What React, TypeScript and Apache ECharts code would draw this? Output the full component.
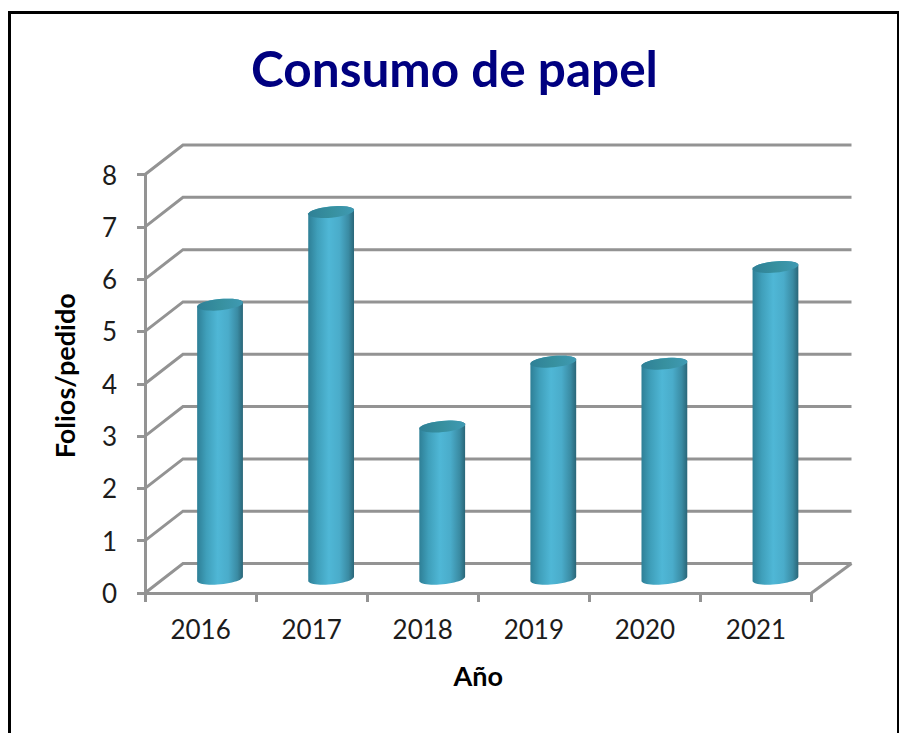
import React, { useEffect, useRef } from "react";
import * as echarts from "echarts";

const years = ["2016", "2017", "2018", "2019", "2020", "2021"];
const consumption = [5.23, 7.0, 2.9, 4.14, 4.1, 5.95];
const gridTicks = [0, 1, 2, 3, 4, 5, 6, 7, 8];

const FONT = "Lato, Carlito, 'Open Sans', sans-serif";
const DEPTH_X = 38;
const DEPTH_Y = 29.5;
const GRID_COLOR = "#939393";

function ellipsePoints(cx: number, cy: number, rx: number, ry: number, tilt: number, from: number, to: number, n: number) {
  const pts: number[][] = [];
  for (let i = 0; i <= n; i++) {
    const t = from + ((to - from) * i) / n;
    const ex = rx * Math.cos(t);
    const ey = ry * Math.sin(t);
    pts.push([cx + ex * Math.cos(tilt) - ey * Math.sin(tilt), cy + ex * Math.sin(tilt) + ey * Math.cos(tilt)]);
  }
  return pts;
}

export default function App() {
  const ref = useRef<HTMLDivElement>(null);
  useEffect(() => {
    const chart = echarts.init(ref.current!, undefined, { renderer: "svg" });
    const tilt = (-5.5 * Math.PI) / 180;
    const bodyFill = new echarts.graphic.LinearGradient(0, 0, 1, 0, [
      { offset: 0, color: "#2e7f96" },
      { offset: 0.2, color: "#3f9fba" },
      { offset: 0.45, color: "#4fb7d6" },
      { offset: 0.68, color: "#4aacca" },
      { offset: 0.88, color: "#3a8ba3" },
      { offset: 1, color: "#2a6678" },
    ]);
    const capFill = new echarts.graphic.LinearGradient(0, 0, 1, 0, [
      { offset: 0, color: "#2f8096" },
      { offset: 0.5, color: "#37909f" },
      { offset: 1, color: "#3f9ab3" },
    ]);
    chart.setOption({
      animation: false,
      title: {
        text: "Consumo de papel",
        left: 449.5,
        top: 38,
        textAlign: "center",
        textStyle: { fontFamily: FONT, fontSize: 49.5, fontWeight: "bold", color: "#000080" },
      },
      grid: { left: 145, right: 87.5, top: 174.5, bottom: 140 },
      graphic: [
        {
          type: "rect",
          silent: true,
          z: -1,
          shape: { x: 9.5, y: 12.5, width: 889, height: 740 },
          style: { fill: "#ffffff", stroke: "#000000", lineWidth: 3 },
        },
      ],
      xAxis: {
        type: "category",
        data: years,
        boundaryGap: true,
        axisLine: { lineStyle: { color: GRID_COLOR, width: 3 } },
        axisTick: { show: true, length: 9, lineStyle: { color: GRID_COLOR, width: 3 } },
        axisLabel: { fontFamily: FONT, fontSize: 26, color: "#1c1c1c", margin: 23 },
        name: "Año",
        nameLocation: "middle",
        nameGap: 69,
        nameTextStyle: { fontFamily: FONT, fontSize: 27, fontWeight: "bold", color: "#000000" },
      },
      yAxis: {
        type: "value",
        min: 0,
        max: 8,
        interval: 1,
        splitLine: { show: false },
        axisLine: { show: true, lineStyle: { color: GRID_COLOR, width: 3 } },
        axisTick: { show: true, length: 8, lineStyle: { color: GRID_COLOR, width: 3 } },
        axisLabel: { fontFamily: FONT, fontSize: 26, color: "#1c1c1c", margin: 28 },
        name: "Folios/pedido",
        nameLocation: "middle",
        nameGap: 67,
        nameTextStyle: { fontFamily: FONT, fontSize: 27, fontWeight: "bold", color: "#000000", padding: [0, 0, 0, 16] },
      },
      series: [
        {
          type: "custom",
          name: "walls",
          silent: true,
          z: 1,
          data: gridTicks.map((v) => [0, v]),
          encode: { x: 0, y: 1 },
          renderItem: (params: any, api: any) => {
            const v = api.value(1);
            const y = api.coord([0, v])[1];
            const sys = params.coordSys;
            const style = { stroke: GRID_COLOR, lineWidth: 3, fill: "none" };
            const children: any[] = [
              {
                type: "polyline",
                shape: {
                  points: [
                    [sys.x, y],
                    [sys.x + DEPTH_X, y - DEPTH_Y],
                    [sys.x + sys.width + DEPTH_X + 2, y - DEPTH_Y],
                  ],
                },
                style,
              },
            ];
            if (v === 0) {
              children.push({
                type: "line",
                shape: { x1: sys.x + sys.width, y1: y, x2: sys.x + sys.width + DEPTH_X + 2, y2: y - DEPTH_Y },
                style,
              });
            }
            return { type: "group", children };
          },
        },
        {
          type: "custom",
          name: "Folios/pedido",
          z: 3,
          data: consumption.map((v, i) => [i, v]),
          encode: { x: 0, y: 1 },
          renderItem: (_params: any, api: any) => {
            const [x, yTop] = api.coord([api.value(0), api.value(1)]);
            const [, yBase] = api.coord([api.value(0), 0]);
            const cx = x + DEPTH_X / 2 + 0.5;
            const top = yTop - DEPTH_Y / 2;
            const base = yBase - DEPTH_Y / 2 + 0.5;
            const rx = 23;
            const ry = 5.6;
            const body = [
              ...ellipsePoints(cx, top, rx, ry, tilt, Math.PI, 2 * Math.PI, 16),
              ...ellipsePoints(cx, base, rx, ry, tilt, 0, Math.PI, 24),
            ];
            return {
              type: "group",
              children: [
                { type: "polygon", shape: { points: body }, style: { fill: bodyFill } },
                {
                  type: "polygon",
                  shape: { points: ellipsePoints(cx, top, rx, ry, tilt, 0, 2 * Math.PI, 40) },
                  style: { fill: capFill },
                },
              ],
            };
          },
        },
      ],
    });
    return () => chart.dispose();
  }, []);
  return <div ref={ref} style={{ position: "absolute", left: 0, top: 0, width: 899, height: 733, overflow: "hidden" }} />;
}
